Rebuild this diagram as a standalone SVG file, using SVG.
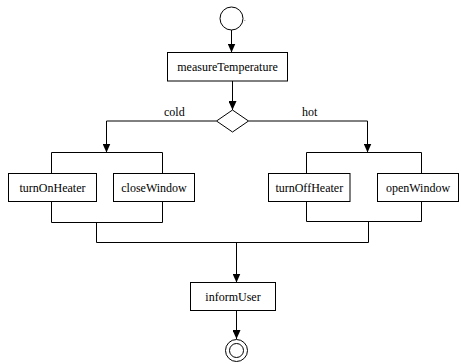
<svg xmlns="http://www.w3.org/2000/svg" width="461" height="364" viewBox="0 0 461 364">
<style>
.box{fill:#fff;stroke:#000;stroke-width:1}
.lbl{font-size:12px;fill:#000;text-anchor:middle}
.elbl{font-size:12px;fill:#000}
.c{fill:none;stroke:#000;stroke-width:1}
</style>
<defs>
<marker id="ah" viewBox="0 0 9 8" refX="9" refY="4" markerWidth="9" markerHeight="8" markerUnits="userSpaceOnUse" orient="auto">
<path d="M0,0 L9,4 L0,8 z" fill="#000"/>
</marker>
</defs>
<rect width="461" height="364" fill="#fff"/>
<g font-family="'Liberation Serif', 'Times New Roman', Times, serif">
<g id="connectors">
<path class="c" d="M231.5,30 V52.5" marker-end="url(#ah)"/>
<path class="c" d="M232.5,81 V110" marker-end="url(#ah)"/>
<path class="c" d="M216.5,121 H106.5 V152.5" marker-end="url(#ah)"/>
<path class="c" d="M248.5,121 H367.5 V152.5" marker-end="url(#ah)"/>
<path class="c" d="M51.5,173.5 V152.5 H162.5 V173.5"/>
<path class="c" d="M51.5,201.5 V222.5 H162.5 V201.5"/>
<path class="c" d="M96.5,222.5 V242.5"/>
<path class="c" d="M306.5,173.5 V152.5 H421.5 V173.5"/>
<path class="c" d="M306.5,201.5 V221.5 H421.5 V201.5"/>
<path class="c" d="M368.5,221.5 V242.5"/>
<path class="c" d="M96.5,242.5 H368.5"/>
<path class="c" d="M236.5,242.5 V282.5" marker-end="url(#ah)"/>
<path class="c" d="M236.5,310.5 V339" marker-end="url(#ah)"/>
<text class="elbl" x="164" y="116">cold</text>
<text class="elbl" x="302" y="116">hot</text>
</g>
<g id="start">
<circle cx="231.5" cy="18.5" r="11.5" fill="#fff" stroke="#000" stroke-width="1"/>
<text class="elbl" x="244" y="21" style="font-size:6px">.</text>
</g>
<g id="measureTemperature">
<rect class="box" x="167.5" y="52.5" width="120" height="28.5"/>
<text class="lbl" x="227.5" y="71">measureTemperature</text>
</g>
<g id="decision">
<polygon class="box" points="232.5,110 248.5,121 232.5,132 216.5,121"/>
</g>
<g id="turnOnHeater">
<rect class="box" x="8.5" y="173.5" width="88" height="28"/>
<text class="lbl" x="52.5" y="192">turnOnHeater</text>
</g>
<g id="closeWindow">
<rect class="box" x="113.5" y="173.5" width="81" height="28"/>
<text class="lbl" x="154" y="192">closeWindow</text>
</g>
<g id="turnOffHeater">
<rect class="box" x="268.5" y="173.5" width="81.5" height="28"/>
<text class="lbl" x="309.25" y="192">turnOffHeater</text>
</g>
<g id="openWindow">
<rect class="box" x="377.5" y="173.5" width="81" height="28"/>
<text class="lbl" x="418" y="192">openWindow</text>
</g>
<g id="informUser">
<rect class="box" x="190.5" y="282.5" width="85" height="28"/>
<text class="lbl" x="233" y="301">informUser</text>
</g>
<g id="end">
<circle cx="236.5" cy="350.5" r="11" fill="#fff" stroke="#000" stroke-width="1"/>
<circle cx="236.5" cy="350.5" r="7" fill="#fff" stroke="#000" stroke-width="1"/>
</g>
</g>
</svg>
